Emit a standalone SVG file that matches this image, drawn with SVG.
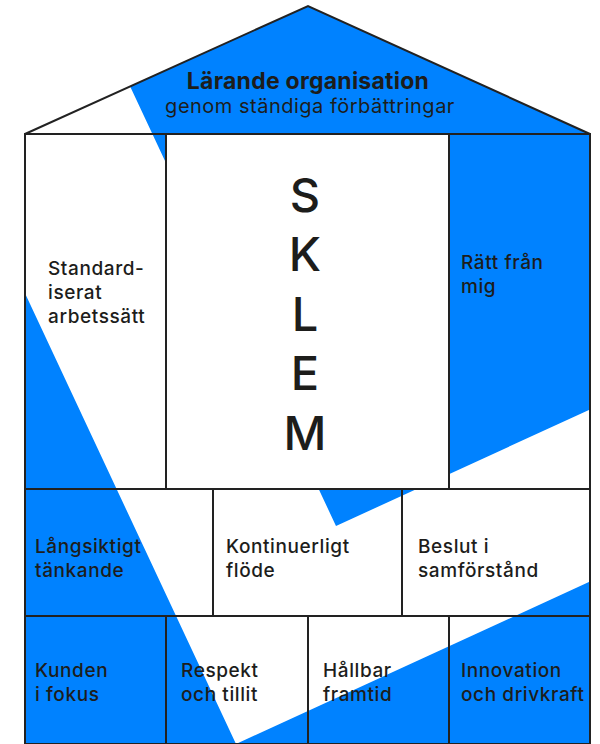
<svg xmlns="http://www.w3.org/2000/svg" width="600" height="744" viewBox="0 0 600 744">
  <style>
    .ln { fill: none; stroke: #222; stroke-width: 2; stroke-linejoin: miter; }
    .cell { fill: none; stroke: #222; stroke-width: 2; }
    .txt { font-family: Inter, "Liberation Sans", sans-serif; fill: #1d1d1b; }
    .lbl { font-size: 19px; font-weight: 500; letter-spacing: 0.6px; }
    .big { font-size: 47px; font-weight: 500; text-anchor: middle; }
  </style>
  <defs>
    <clipPath id="houseClip">
      <path d="M25,134 L308,6 L590,134 L590,744 L25,744 Z"/>
    </clipPath>
  </defs>

  <!-- background pattern -->
  <g id="background" clip-path="url(#houseClip)">
    <rect x="0" y="0" width="600" height="744" fill="#0082ff"/>
    <polygon points="-206,-200 -4,-200 336,526 700,359 700,531 236,744" fill="#ffffff"/>
  </g>

  <!-- roof -->
  <g id="roof">
    <path class="ln" d="M25,134 L308,6 L590,134"/>
    <text class="txt" x="308" y="89" text-anchor="middle" font-size="23" font-weight="700" letter-spacing="0.25">Lärande organisation</text>
    <text class="txt" x="310" y="113" text-anchor="middle" font-size="20" font-weight="400" letter-spacing="0.5">genom ständiga förbättringar</text>
  </g>

  <!-- row 1 -->
  <g id="standardiserat">
    <rect class="cell" x="25" y="134" width="141" height="355"/>
    <text class="txt lbl" x="48" y="275">Standard-</text>
    <text class="txt lbl" x="48" y="299">iserat</text>
    <text class="txt lbl" x="48" y="323">arbetssätt</text>
  </g>
  <g id="sklem">
    <rect class="cell" x="166" y="134" width="283" height="355" style="fill:#ffffff"/>
    <text class="txt big" x="305" y="212">S</text>
    <text class="txt big" x="305" y="271">K</text>
    <text class="txt big" x="305" y="331">L</text>
    <text class="txt big" x="305" y="390">E</text>
    <text class="txt big" x="305" y="450">M</text>
  </g>
  <g id="ratt-fran-mig">
    <rect class="cell" x="449" y="134" width="141" height="355"/>
    <text class="txt lbl" x="461" y="269">Rätt från</text>
    <text class="txt lbl" x="461" y="293">mig</text>
  </g>

  <!-- row 2 -->
  <g id="langsiktigt">
    <rect class="cell" x="25" y="489" width="188" height="127"/>
    <text class="txt lbl" x="35" y="553">Långsiktigt</text>
    <text class="txt lbl" x="35" y="577">tänkande</text>
  </g>
  <g id="kontinuerligt">
    <rect class="cell" x="213" y="489" width="189" height="127"/>
    <text class="txt lbl" x="226" y="553">Kontinuerligt</text>
    <text class="txt lbl" x="226" y="577">flöde</text>
  </g>
  <g id="beslut">
    <rect class="cell" x="402" y="489" width="188" height="127"/>
    <text class="txt lbl" x="418" y="553">Beslut i</text>
    <text class="txt lbl" x="418" y="577">samförstånd</text>
  </g>

  <!-- row 3 -->
  <g id="kunden">
    <rect class="cell" x="25" y="616" width="141" height="128"/>
    <text class="txt lbl" x="35" y="677">Kunden</text>
    <text class="txt lbl" x="35" y="701">i fokus</text>
  </g>
  <g id="respekt">
    <rect class="cell" x="166" y="616" width="142" height="128"/>
    <text class="txt lbl" x="181" y="677">Respekt</text>
    <text class="txt lbl" x="181" y="701">och tillit</text>
  </g>
  <g id="hallbar">
    <rect class="cell" x="308" y="616" width="141" height="128"/>
    <text class="txt lbl" x="323" y="677">Hållbar</text>
    <text class="txt lbl" x="323" y="701">framtid</text>
  </g>
  <g id="innovation">
    <rect class="cell" x="449" y="616" width="141" height="128"/>
    <text class="txt lbl" x="461" y="677">Innovation</text>
    <text class="txt lbl" x="461" y="701">och drivkraft</text>
  </g>

  <g id="connectors"/>
</svg>
